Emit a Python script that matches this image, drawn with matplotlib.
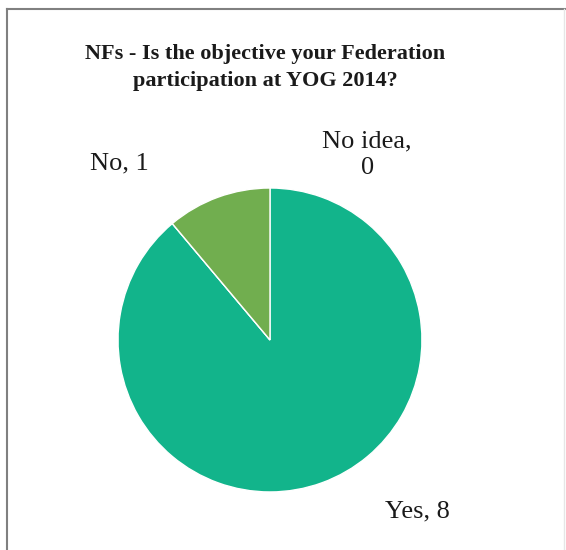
import matplotlib
matplotlib.use("Agg")
import matplotlib.pyplot as plt
from matplotlib.lines import Line2D

categories = ["Yes", "No idea", "No"]
values = [8, 0, 1]
colors = ["#12B48B", "#12B48B", "#71AE4F"]
title = "NFs - Is the objective your Federation\nparticipation at YOG 2014?"
label_pos = {"Yes": (0.97, -1.13), "No idea": (0.64, 1.22), "No": (-0.99, 1.16)}

plt.rcParams['font.family'] = ['Liberation Serif', 'DejaVu Serif']

fig = plt.figure(figsize=(5.66, 5.5), dpi=100)
fig.patch.set_facecolor("white")
ax = fig.add_axes([0.2085, 0.1055, 0.537, 0.5527])

wedges, texts = ax.pie(values, colors=colors, startangle=90, counterclock=False,
                       radius=1.0,
                       labels=[f"{c},\n{v}" if c == "No idea" else f"{c}, {v}" for c, v in zip(categories, values)],
                       wedgeprops=dict(edgecolor="white", linewidth=1.0),
                       textprops=dict(fontsize=19, color="#1a1a1a"))
for c, t in zip(categories, texts):
    t.set_position(label_pos[c])
    t.set_ha("center")
    t.set_va("center")
    t.set_clip_on(False)
    t.set_linespacing(1.25)

ax.set_xlim(-1, 1)
ax.set_ylim(-1, 1)
ax.set_aspect("equal")
ax.axis("off")

fig.text(0.469, 0.877, title, ha="center", va="center", fontsize=16,
         fontweight="bold", color="#1a1a1a", linespacing=1.45)

fig.add_artist(Line2D([7/566, 1], [1-9/550, 1-9/550], color="#808080", lw=1.5))
fig.add_artist(Line2D([7/566, 7/566], [0, 1-9/550], color="#808080", lw=1.5))
fig.add_artist(Line2D([564/566, 564/566], [0, 1-9/550], color="#e6e6e6", lw=1.0))

fig.savefig("out.png", dpi=100, facecolor="white")
